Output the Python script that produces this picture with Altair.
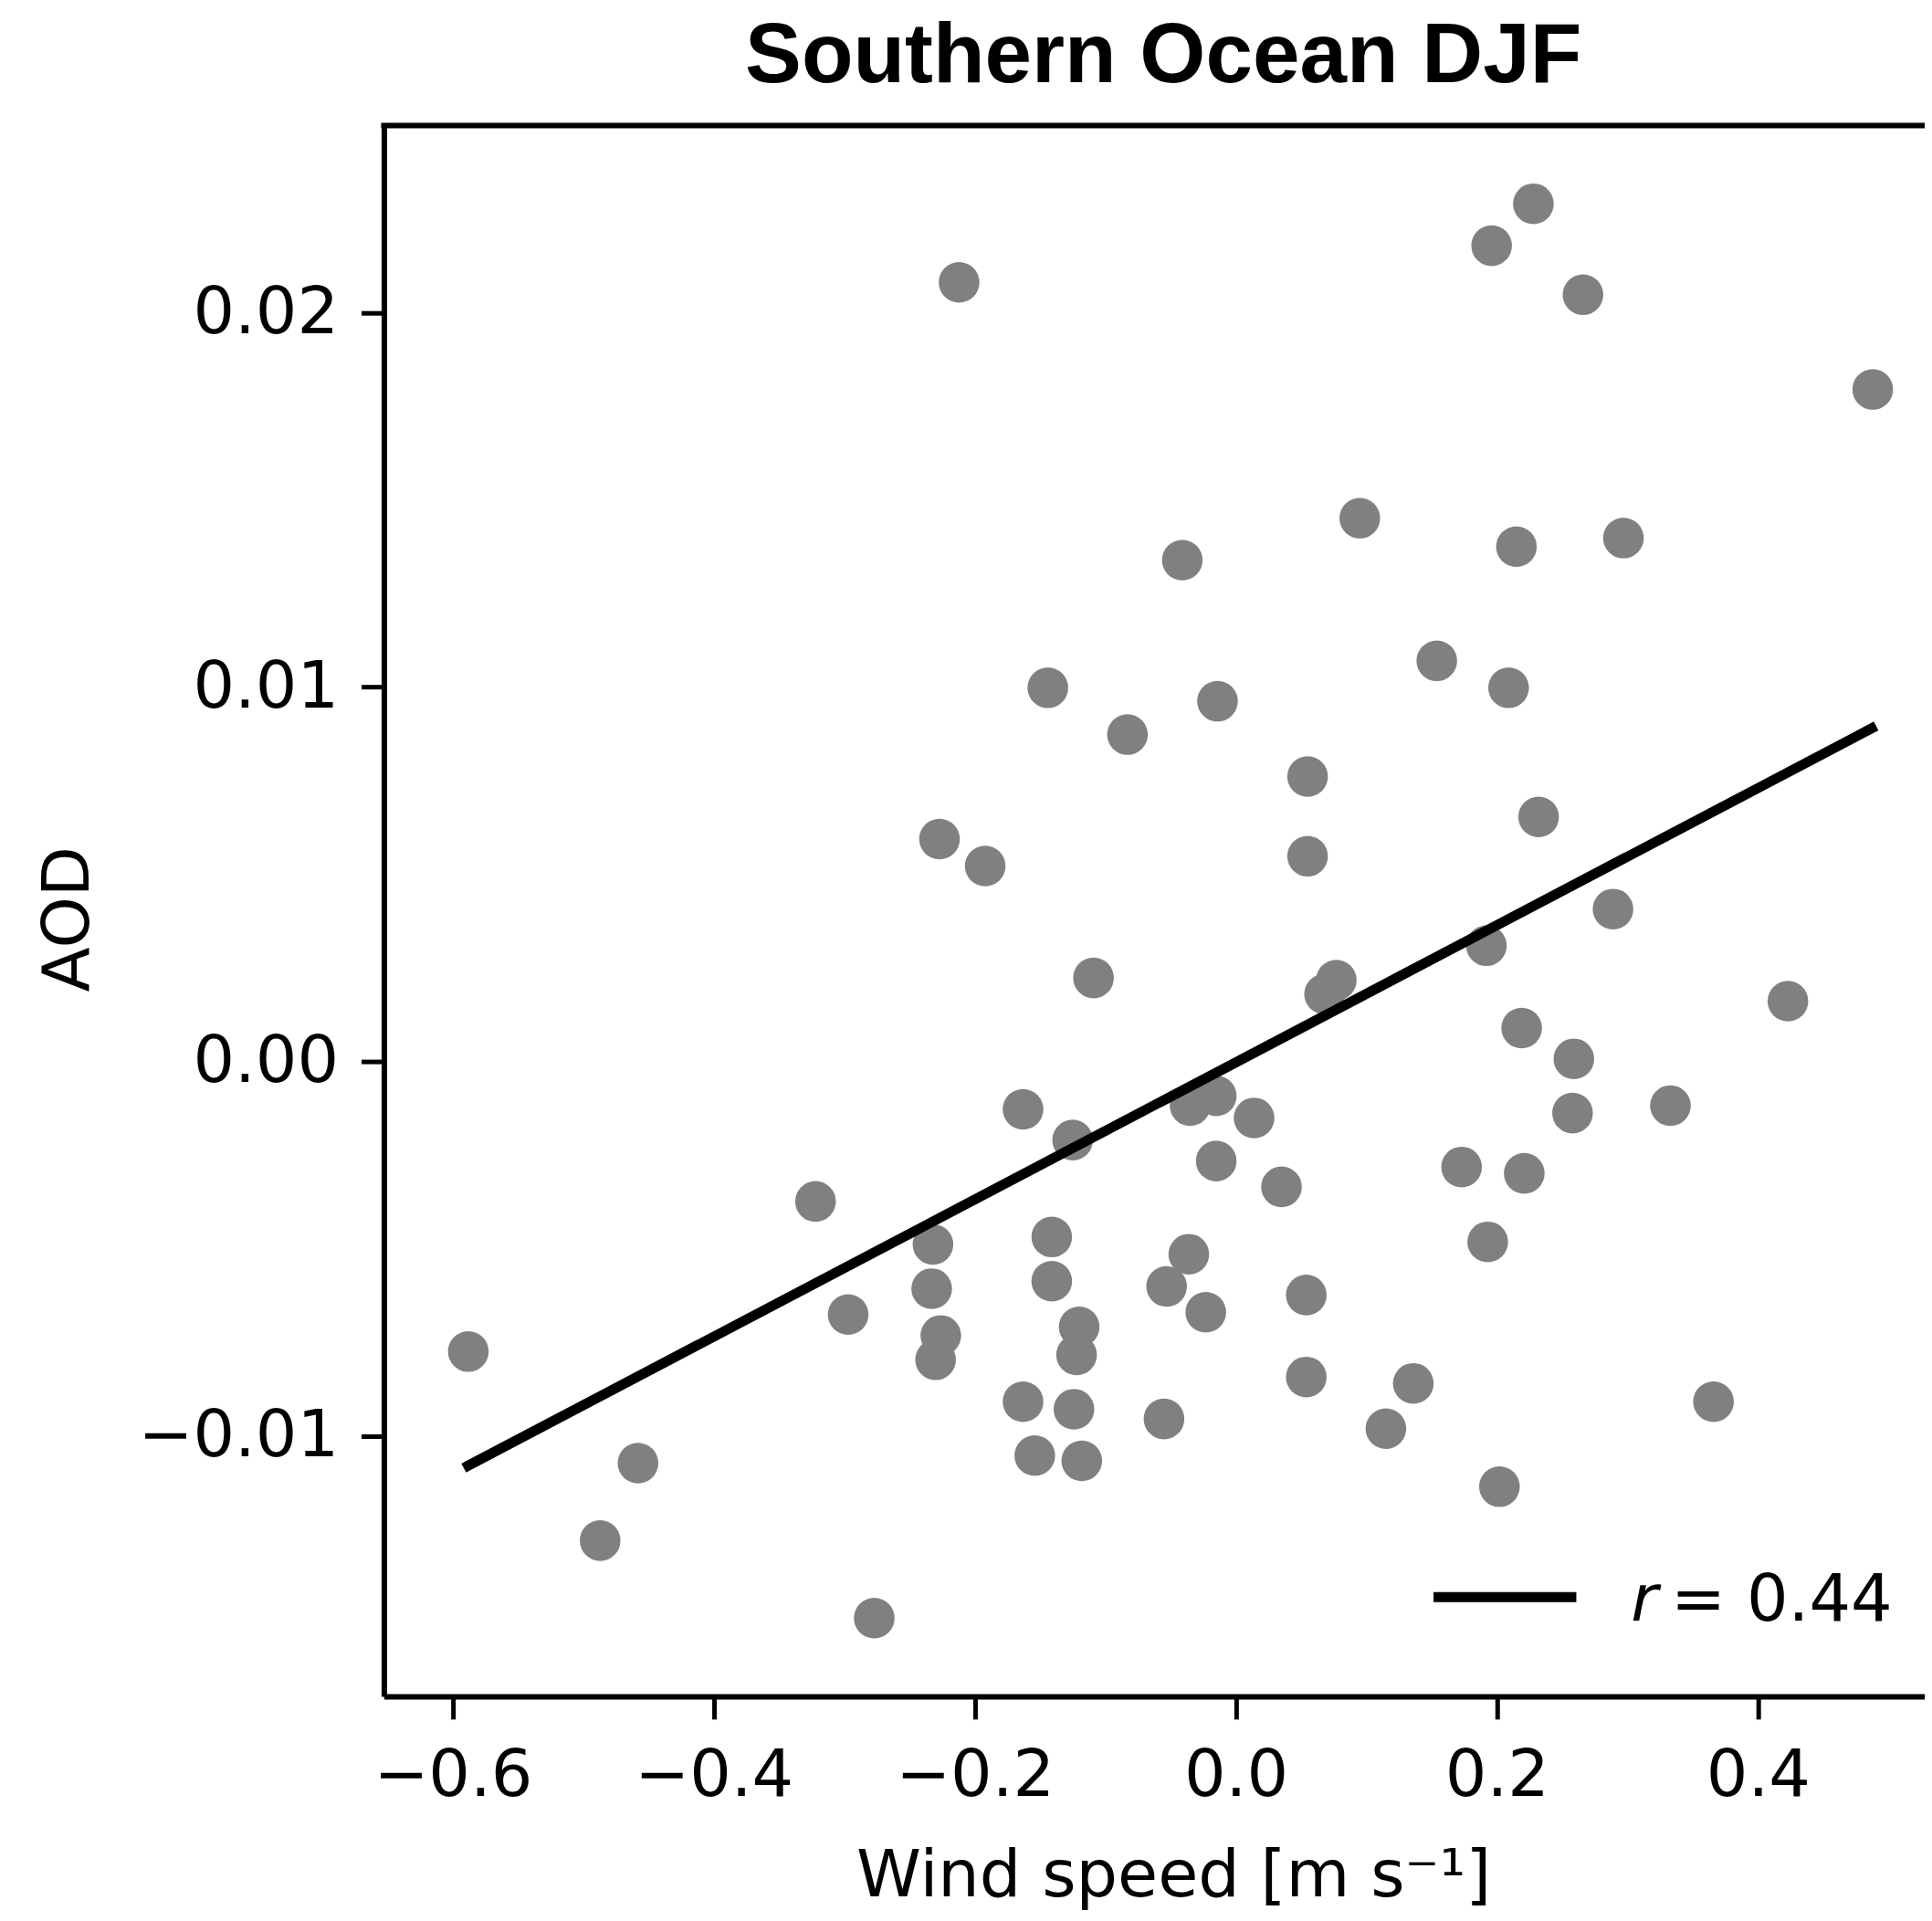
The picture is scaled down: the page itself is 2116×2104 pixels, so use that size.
import altair as alt
import pandas as pd

# ---- data ----
wind = [-0.588, -0.487, -0.458, -0.322, -0.297, -0.277, -0.212, -0.227, -0.192, -0.232,
        -0.233, -0.226, -0.230, -0.163, -0.144, -0.125, -0.109, -0.141, -0.141, -0.120,
        -0.122, -0.163, -0.124, -0.154, -0.118, -0.083, -0.041, -0.014, -0.035, -0.015,
        -0.015, 0.014, -0.036, -0.053, -0.023, -0.055, 0.035, 0.055, 0.055, 0.077,
        0.068, 0.095, 0.054, 0.054, 0.115, 0.136, 0.154, 0.173, 0.193, 0.192,
        0.196, 0.228, 0.266, 0.215, 0.209, 0.232, 0.297, 0.289, 0.219, 0.259,
        0.258, 0.221, 0.202, 0.333, 0.366, 0.423, 0.488]
aod = [-0.00775, -0.0128, -0.01073, -0.00374, -0.00676, -0.01487, 0.02081, 0.00594, 0.00522, -0.00489,
       -0.00607, -0.00732, -0.00797, -0.00128, 0.00998, -0.00210, 0.00223, -0.00469, -0.00587, -0.00709,
       -0.00784, -0.00909, -0.00929, -0.01053, -0.01067, 0.00873, 0.01339, 0.00962, -0.00118, -0.00092,
       -0.00266, -0.00151, -0.00515, -0.00601, -0.00670, -0.00955, -0.00335, 0.00761, 0.00548, 0.00217,
       0.00180, 0.01451, -0.00624, -0.00843, -0.00981, -0.00860, 0.01070, -0.00282, -0.00482, 0.00309,
       0.02179, 0.02291, 0.02048, 0.01375, 0.00998, 0.00653, 0.01398, 0.00407, 0.00089, 0.00007,
       -0.00138, -0.00299, -0.01136, -0.00118, -0.00909, 0.00161, 0.01795]
fit_wind = [-0.5915, 0.4906]
fit_aod = [-0.01086, 0.00896]
x_ticks = [-0.6, -0.4, -0.2, 0.0, 0.2, 0.4]
y_ticks = [-0.01, 0.0, 0.01, 0.02]
title_text = "Southern Ocean DJF"
x_title = "Wind speed [m s\u207b\u00b9]"
y_title = "AOD"
legend_r = "r"
legend_value = "= 0.44"

# ---- layout ----
W, H = 1694, 1727
x_dom = [-0.6527, 0.5278]
y_dom = [-0.01696, 0.025]
FONT = "DejaVu Sans"
FS = 72
LW = 6
TW = 5
FIT_W = 11

pts = pd.DataFrame({"wind": wind, "aod": aod})
fit = pd.DataFrame({"wind": fit_wind, "aod": fit_aod})

x_axis = alt.Axis(values=x_ticks, format=".1f", grid=False, title=x_title,
                  tickSize=25, tickWidth=TW, tickColor="black",
                  domainColor="black", domainWidth=LW,
                  labelFont=FONT, labelFontSize=FS, labelColor="black", labelPadding=27,
                  labelFlush=False, labelOverlap=False, labelLimit=600,
                  titleFont=FONT, titleFontSize=FS, titleFontWeight="normal", titleColor="black",
                  titleX=868, titleY=219, titleAlign="center", titleBaseline="alphabetic",
                  titleLimit=2000)
y_axis = alt.Axis(values=y_ticks, format=".2f", grid=False, title=y_title,
                  tickSize=25, tickWidth=TW, tickColor="black",
                  domainColor="black", domainWidth=LW,
                  labelFont=FONT, labelFontSize=FS, labelColor="black", labelPadding=25,
                  labelFlush=False, labelOverlap=False, labelLimit=600,
                  titleFont=FONT, titleFontSize=FS, titleFontWeight="normal", titleColor="black",
                  titleX=-325, titleY=872, titleAlign="center", titleBaseline="alphabetic",
                  titleAngle=270, titleLimit=2000)

xs = alt.Scale(domain=x_dom, nice=False, zero=False)
ys = alt.Scale(domain=y_dom, nice=False, zero=False)

points = alt.Chart(pts).mark_circle(size=2000, color="#808080", opacity=1).encode(
    x=alt.X("wind:Q", scale=xs, axis=x_axis),
    y=alt.Y("aod:Q", scale=ys, axis=y_axis),
)
line = alt.Chart(fit).mark_line(color="black", strokeWidth=FIT_W).encode(
    x=alt.X("wind:Q", scale=xs, axis=x_axis),
    y=alt.Y("aod:Q", scale=ys, axis=y_axis),
)
one = pd.DataFrame({"k": [0]})
top_border = alt.Chart(one).mark_rule(color="black", strokeWidth=LW).encode(
    x=alt.value(-LW / 2), x2=alt.value(W), y=alt.value(0))
leg_line = alt.Chart(one).mark_rule(color="black", strokeWidth=FIT_W).encode(
    x=alt.value(1154), x2=alt.value(1311), y=alt.value(1618))
leg_r = alt.Chart(one).mark_text(text=legend_r, font=FONT, fontStyle="italic", fontSize=FS,
                                 align="left", baseline="alphabetic", color="black").encode(
    x=alt.value(1371), y=alt.value(1644))
leg_v = alt.Chart(one).mark_text(text=legend_value, font=FONT, fontSize=FS,
                                 align="left", baseline="alphabetic", color="black").encode(
    x=alt.value(1415), y=alt.value(1644))

chart = alt.layer(points, line, top_border, leg_line, leg_r, leg_v).properties(
    width=W, height=H,
    title=alt.TitleParams(text=title_text, font="Liberation Sans", fontSize=93, fontWeight="bold",
                          color="black", anchor="middle", dx=10, offset=25),
    autosize=alt.AutoSizeParams(type="none"),
    padding={"left": 414, "top": 126, "right": 0, "bottom": 235},
    background="white",
).configure_view(stroke=None)

chart.save("out.html", embed_options={"renderer": "svg", "actions": False})
